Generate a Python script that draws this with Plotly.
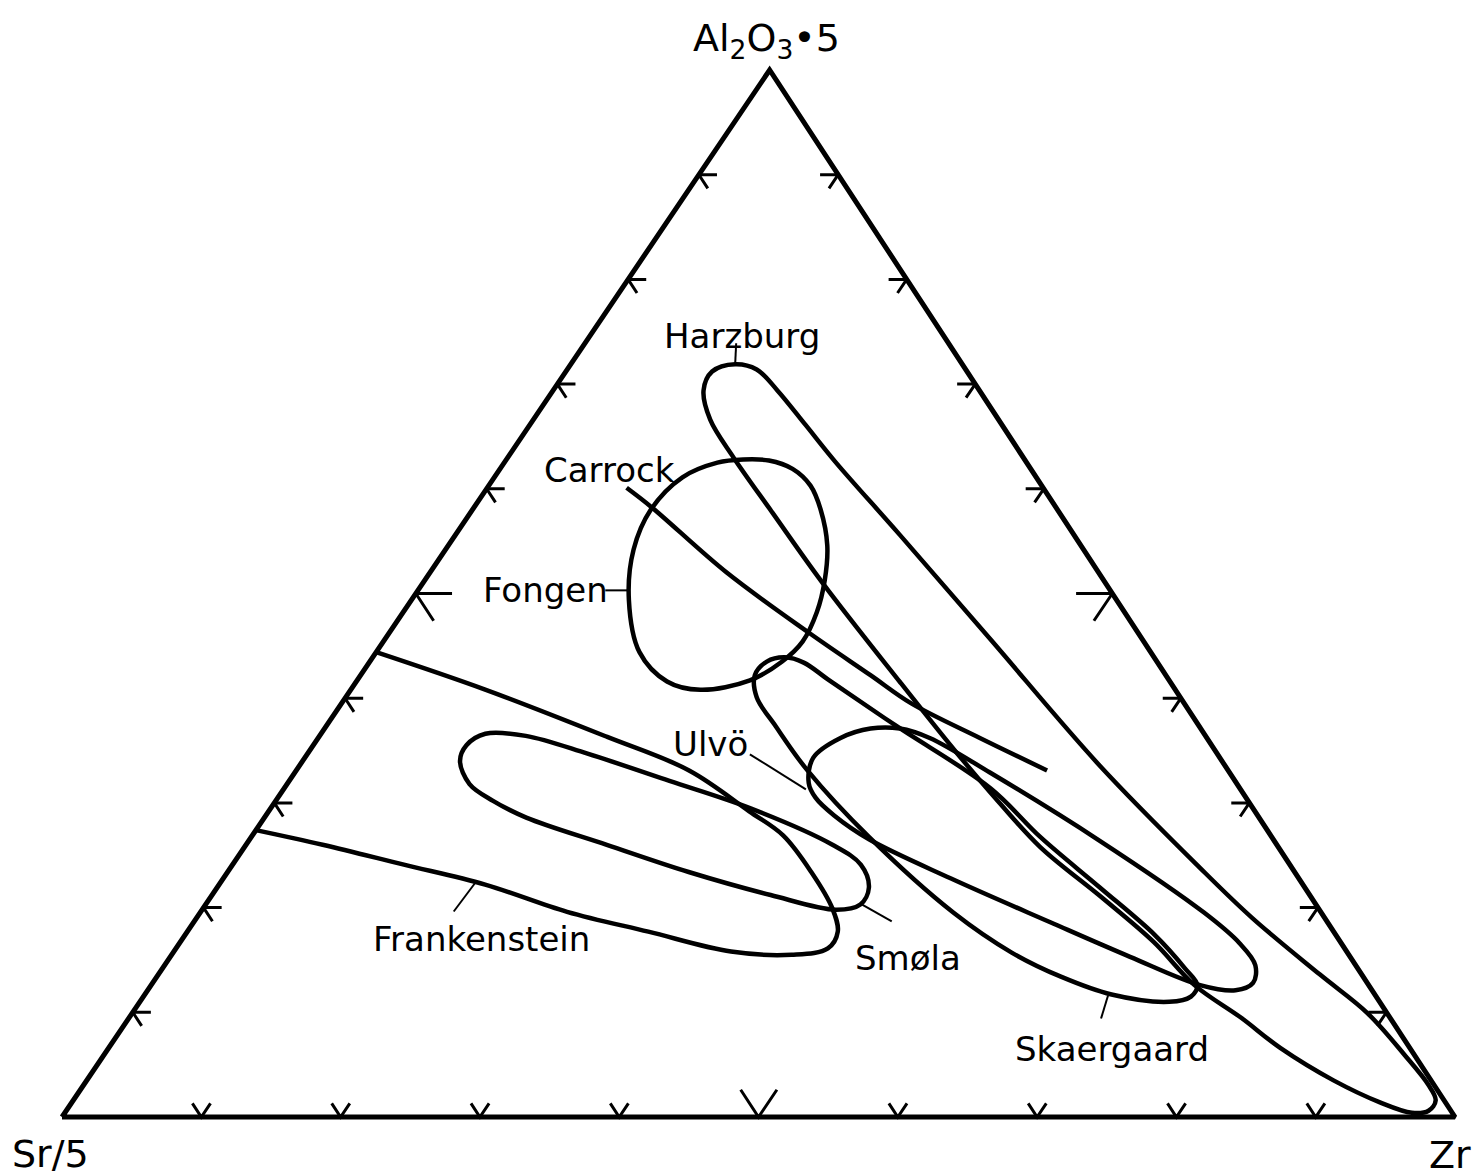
import plotly.graph_objects as go

# field outlines as ternary compositions in percent: (Al2O3*5, Zr); Sr/5 = 100 - both
harzburg_al = [71.9, 71.4, 69.4, 66.1, 62.6, 55.6, 45.6, 33.6, 23.8, 19.0, 13.6, 9.9, 5.9, 3.1,
               1.6, 0.6, 0.4, 1.4, 3.5, 6.6, 9.5, 12.6, 16.7, 21.1, 25.8, 31.0, 35.1, 41.5,
               51.0, 57.7, 63.0, 66.6, 69.4, 71.2]
harzburg_zr = [11.8, 13.6, 16.1, 19.8, 23.7, 31.9, 43.5, 57.4, 69.6, 75.8, 83.4, 88.7, 93.4, 96.5,
               97.8, 97.8, 96.7, 93.9, 89.5, 84.1, 79.8, 74.9, 69.9, 63.8, 57.1, 50.9, 46.2, 39.1,
               28.7, 21.7, 16.2, 12.7, 10.8, 10.5]

fongen_al = [62.8, 62.7, 61.9, 60.3, 58.0, 54.6, 51.3, 48.2, 45.4, 43.5, 41.7, 40.8, 41.6, 44.4,
             49.4, 54.2, 58.0, 61.1, 62.5]
fongen_zr = [17.0, 18.9, 21.0, 23.1, 25.0, 27.2, 28.7, 29.7, 30.1, 29.6, 28.2, 25.1, 22.3, 18.9,
             15.6, 13.5, 12.8, 13.5, 15.3]

carrock_al = [60.1, 58.2, 52.0, 46.2, 42.2, 39.5, 36.2, 33.1]
carrock_zr = [10.0, 12.8, 21.3, 30.2, 36.6, 40.9, 47.5, 53.9]

skaergaard_al = [43.9, 43.4, 41.7, 37.3, 31.4, 26.7, 21.9, 17.4, 14.2, 12.6, 11.5, 11.0, 11.7, 13.4,
                 15.7, 19.5, 26.7, 33.1, 37.3, 40.1, 42.2, 43.5]
skaergaard_zr = [29.6, 31.2, 33.9, 41.0, 50.7, 56.7, 63.4, 69.6, 73.4, 75.1, 75.2, 73.9, 69.4, 64.9,
                 60.2, 54.1, 44.4, 36.7, 32.3, 29.5, 28.3, 28.5]

ulvo_al = [31.9, 34.3, 36.2, 37.1, 37.1, 36.2, 32.9, 26.5, 19.5, 16.6, 14.5, 12.8, 12.1, 12.6,
           15.3, 18.6, 22.8, 26.5, 28.8, 30.5]
ulvo_zr = [37.4, 36.5, 37.5, 39.2, 41.3, 43.9, 49.9, 60.9, 72.1, 76.1, 78.3, 79.0, 78.1, 75.3,
           68.9, 61.5, 52.2, 44.5, 40.8, 38.6]

smola_al = [34.0, 35.5, 36.6, 36.4, 34.7, 32.1, 29.5, 26.0, 24.1, 21.9, 20.3, 19.8, 21.2, 23.4,
            26.0, 28.6, 30.2, 31.8]
smola_zr = [11.3, 11.0, 11.8, 14.8, 20.1, 27.3, 34.4, 42.1, 45.1, 46.8, 47.0, 45.5, 40.1, 33.1,
            25.9, 18.8, 15.6, 13.1]

frank_al = [44.4, 40.8, 36.3, 33.1, 29.2, 26.9, 23.4, 19.9, 17.7, 16.1, 15.5, 15.8, 17.7, 19.6,
            22.2, 24.1, 26.0, 27.4]
frank_zr = [0.0, 9.7, 20.7, 28.2, 34.5, 38.1, 41.9, 45.2, 46.7, 46.8, 44.5, 40.0, 33.1, 26.3,
            19.1, 12.3, 5.5, 0.0]

tick_values = [10, 20, 30, 40, 50, 60, 70, 80, 90]

# the drawn apex sits a little right of the base midpoint in the original
APEX_X = 0.508

# pixel placement of the triangle inside the figure (page body adds 8px)
W, H = 1480, 1175
M = 4
X0, XW = 54, 1393      # Sr corner x, base length
Y0, YH = 1109, 1047    # base line y, apex height


def to_xy(al, zr):
    x = [None if a is None else z / 100 + APEX_X * a / 100 for a, z in zip(al, zr)]
    y = [None if a is None else a / 100 for a in al]
    return x, y


fig = go.Figure()

# triangle frame
tx, ty = to_xy([0, 0, 100, 0], [0, 100, 0, 0])
fig.add_trace(go.Scatter(x=tx, y=ty, mode="lines",
                         line=dict(color="black", width=5), hoverinfo="skip"))

# ticks on the three sides, arms follow the ternary grid directions
tk_al, tk_zr = [], []
for v in tick_values:
    d = 2.6 if v == 50 else 1.3
    # bottom side (Zr axis)
    tk_al += [d, 0, d, None]
    tk_zr += [v, v, v - d, None]
    # left side
    tk_al += [v, v, v - d, None]
    tk_zr += [d, 0, d, None]
    # right side
    tk_al += [v, v, v - d, None]
    tk_zr += [100 - v - d, 100 - v, 100 - v, None]
kx, ky = to_xy(tk_al, tk_zr)
fig.add_trace(go.Scatter(x=kx, y=ky, mode="lines", connectgaps=False,
                         line=dict(color="black", width=3), hoverinfo="skip"))

fields = [
    ("Harzburg", harzburg_al, harzburg_zr, True),
    ("Fongen", fongen_al, fongen_zr, True),
    ("Carrock", carrock_al, carrock_zr, False),
    ("Skaergaard", skaergaard_al, skaergaard_zr, True),
    ("Ulvö", ulvo_al, ulvo_zr, True),
    ("Smøla", smola_al, smola_zr, True),
    ("Frankenstein", frank_al, frank_zr, False),
]
for name, al, zr, closed in fields:
    if closed:
        al = al + al[:1]
        zr = zr + zr[:1]
    x, y = to_xy(al, zr)
    fig.add_trace(go.Scatter(x=x, y=y, mode="lines", name=name,
                             line=dict(color="black", width=4.5, shape="spline", smoothing=1),
                             hoverinfo="skip"))

FONT = "DejaVu Sans"

# label anchor on the field (al, zr), leader end offset in px, text shift in px
labels = [
    ("Harzburg", 71.9, 11.8, (1, -21), (7, 28)),
    ("Carrock", 60.1, 10.0, None, (-17, 18)),
    ("Fongen", 50.3, 15.1, (-23, 0), (-83, 0)),
    ("Ulvö", 31.3, 37.5, (-56, -35), (-95, 45)),
    ("Frankenstein", 22.3, 18.3, (-21, 28), (7, -55)),
    ("Smøla", 20.3, 47.1, (30, 17), (46, -54)),
    ("Skaergaard", 11.6, 69.2, (-7, 23), (4, -53)),
]
lx, ly = [], []
for text, a, z, lead, shift in labels:
    (x,), (y,) = to_xy([a], [z])
    if lead is not None:
        lx += [x, x + lead[0] / XW, None]
        ly += [y, y - lead[1] / YH, None]
    fig.add_annotation(x=x, y=y, text=text, showarrow=False,
                       xshift=shift[0], yshift=shift[1],
                       font=dict(family=FONT, size=34, color="black"))
fig.add_trace(go.Scatter(x=lx, y=ly, mode="lines", connectgaps=False,
                         line=dict(color="black", width=2), hoverinfo="skip"))

corners = [
    ("Al<sub>2</sub>O<sub>3</sub>•5", 100, 0, (-3, 30)),
    ("Sr/5", 0, 0, (-12, -37)),
    ("Zr", 0, 100, (-5, -38)),
]
for text, a, z, shift in corners:
    (x,), (y,) = to_xy([a], [z])
    fig.add_annotation(x=x, y=y, text=text, showarrow=False,
                       xshift=shift[0], yshift=shift[1],
                       font=dict(family=FONT, size=38, color="black"))

xr = [(M - X0) / XW, (W - M - X0) / XW]
yr = [(Y0 - (H - M)) / YH, (Y0 - M) / YH]

fig.update_layout(
    width=W, height=H,
    margin=dict(l=M, r=M, t=M, b=M),
    showlegend=False,
    plot_bgcolor="white",
    paper_bgcolor="white",
    xaxis=dict(range=xr, visible=False, showgrid=False, zeroline=False),
    yaxis=dict(range=yr, visible=False, showgrid=False, zeroline=False),
)

fig.write_html("out.html")
